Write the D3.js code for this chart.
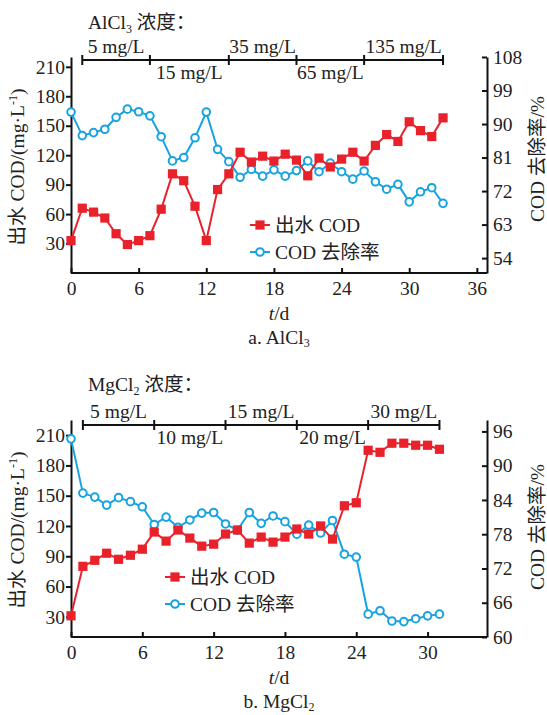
<!DOCTYPE html>
<meta charset="utf-8">
<style>
	body { margin: 0; background: #fff; }
	text { font-family: "Liberation Serif", "Noto Sans CJK SC", serif; font-size: 19.5px; fill: #222; }
	.axis path, .axis line { stroke: #111; stroke-width: 2; }
	.axis text { font-family: "Liberation Serif", serif; font-size: 19.5px; fill: #222; }
</style>

<svg width="547" height="715"></svg>
<script src="https://d3js.org/d3.v7.min.js"></script>

<script>
	// ---- data: a. AlCl3 ----
	var alDays = [0, 1, 2, 3, 4, 5, 6, 7, 8, 9, 10, 11, 12, 13, 14, 15, 16,
	              17, 18, 19, 20, 21, 22, 23, 24, 25, 26, 27, 28, 29, 30, 31, 32, 33];
	var alCod = [33, 66, 62, 56, 40, 29, 33, 38, 65, 101, 94, 68, 33, 85, 101, 123, 113,
	             119, 114, 121, 115, 99, 117, 108, 116, 123, 114, 130, 141, 134, 154, 145, 139, 158];
	var alRemoval = [93.2, 86.9, 87.7, 88.6, 91.8, 94.0, 93.3, 92.2, 86.6, 80.1, 81.0, 86.3, 93.2, 83.2, 79.9, 75.7, 77.8,
	                 76.0, 77.7, 76.0, 77.5, 80.1, 77.2, 79.5, 77.2, 75.2, 77.4, 74.5, 72.5, 73.8, 69.1, 71.8, 72.9, 68.7];
	var alDoseBreaks = [1, 7, 14, 20, 26, 33];
	var alDoseLabels = ["5 mg/L", "15 mg/L", "35 mg/L", "65 mg/L", "135 mg/L"];
	var alDayTicks = [0, 6, 12, 18, 24, 30, 36];
	var alRemovalTicks = [54, 63, 72, 81, 90, 99, 108];

	// ---- data: b. MgCl2 ----
	var mgDays = [0, 1, 2, 3, 4, 5, 6, 7, 8, 9, 10, 11, 12, 13, 14, 15,
	              16, 17, 18, 19, 20, 21, 22, 23, 24, 25, 26, 27, 28, 29, 30, 31];
	var mgCod = [31, 80, 86, 93, 87, 91, 97, 114, 105, 116, 108, 100, 102, 112, 116, 103,
	             109, 104, 109, 117, 112, 120, 107, 140, 143, 195, 193, 202, 202, 200, 200, 196];
	var mgRemoval = [94.7, 85.2, 84.5, 83.1, 84.4, 83.7, 82.8, 79.7, 81.0, 79.2, 80.5, 81.7, 81.8, 79.8, 78.7, 81.8,
	                 79.9, 81.2, 80.2, 78.0, 79.6, 78.2, 80.4, 74.5, 74.0, 64.0, 64.6, 62.8, 62.7, 63.2, 63.7, 64.0];
	var mgDoseBreaks = [1, 7, 13, 19, 25, 31];
	var mgDoseLabels = ["5 mg/L", "10 mg/L", "15 mg/L", "20 mg/L", "30 mg/L"];
	var mgDayTicks = [0, 6, 12, 18, 24, 30];
	var mgRemovalTicks = [60, 66, 72, 78, 84, 90, 96];

	var codTicks = [30, 60, 90, 120, 150, 180, 210];

	var RED = "#e8212b", BLUE = "#17a3e2";
	var svg = d3.select("svg");

	function drawPanel(p) {
		var x = d3.scaleLinear().domain(p.xDomain).range([71, 487]),
		    yL = d3.scaleLinear().domain(p.leftDomain).range([p.bottom, p.top]),
		    yR = d3.scaleLinear().domain(p.rightDomain).range([p.bottom, p.top]);

		var g = svg.append("g");

		// axes
		g.append("g")
			.attr("class", "axis")
			.attr("transform", "translate(0," + p.bottom + ")")
			.call(d3.axisBottom(x).tickValues(p.dayTicks).tickSizeInner(-5).tickSizeOuter(0).tickPadding(8))
			.call(function(a) { a.select(".domain").attr("d", "M71,0H487"); });

		g.append("g")
			.attr("class", "axis")
			.attr("transform", "translate(71,0)")
			.call(d3.axisLeft(yL).tickValues(codTicks).tickSizeInner(5).tickSizeOuter(0).tickPadding(1));

		g.append("g")
			.attr("class", "axis")
			.attr("transform", "translate(487,0)")
			.call(d3.axisRight(yR).tickValues(p.removalTicks).tickSizeInner(-5).tickSizeOuter(0).tickPadding(6));

		g.selectAll(".axis").attr("font-family", null).attr("font-size", null);

		// dosing bar on top
		var bar = g.append("g");
		bar.append("line")
			.attr("x1", x(p.breaks[0])).attr("x2", x(p.breaks[p.breaks.length - 1]))
			.attr("y1", p.barY).attr("y2", p.barY)
			.attr("stroke", "#111").attr("stroke-width", 2);
		bar.selectAll(".tk").data(p.breaks).enter().append("line")
			.attr("x1", function(d) { return x(d); }).attr("x2", function(d) { return x(d); })
			.attr("y1", p.barY - 5).attr("y2", p.barY + 5)
			.attr("stroke", "#111").attr("stroke-width", 2);
		bar.selectAll(".lb").data(p.doseLabels).enter().append("text")
			.attr("x", function(d, i) { return (x(p.breaks[i]) + x(p.breaks[i + 1])) / 2; })
			.attr("y", function(d, i) { return i % 2 ? p.barY + 19 : p.barY - 7; })
			.attr("text-anchor", "middle")
			.text(function(d) { return d; });

		// title of the dosing bar
		var tt = g.append("text").attr("x", 88).attr("y", p.titleY);
		tt.append("tspan").text(p.salt[0]);
		tt.append("tspan").attr("dy", 4).style("font-size", "12px").text(p.salt[1]);
		tt.append("tspan").attr("dy", -4).text(" 浓度：");

		// axis titles
		var lt = g.append("text")
			.attr("transform", "translate(24," + p.leftTitleY + ") rotate(-90)")
			.attr("text-anchor", "middle");
		lt.append("tspan").text("出水 COD/(mg·L");
		lt.append("tspan").attr("dy", -7).style("font-size", "12px").text("-1");
		lt.append("tspan").attr("dy", 7).text(")");

		g.append("text")
			.attr("transform", "translate(544," + p.rightTitleY + ") rotate(-90)")
			.attr("text-anchor", "middle")
			.text("COD 去除率/%");

		g.append("text")
			.attr("x", 279).attr("y", p.bottom + 47)
			.attr("text-anchor", "middle")
			.html('<tspan font-style="italic">t</tspan>/d');

		var cap = g.append("text").attr("x", 279).attr("y", p.bottom + 71)
			.attr("text-anchor", "middle");
		cap.append("tspan").text(p.caption + " " + p.salt[0]);
		cap.append("tspan").attr("dy", 3).style("font-size", "12px").text(p.salt[1]);

		// series
		var codPts = p.days.map(function(d, i) { return [x(d), yL(p.cod[i])]; }),
		    remPts = p.days.map(function(d, i) { return [x(d), yR(p.removal[i])]; });

		g.append("path").attr("d", d3.line()(remPts))
			.attr("fill", "none").attr("stroke", BLUE).attr("stroke-width", 2);
		g.selectAll(".rem").data(remPts).enter().append("circle")
			.attr("cx", function(d) { return d[0]; }).attr("cy", function(d) { return d[1]; })
			.attr("r", 3.8).attr("fill", "#fff").attr("stroke", BLUE).attr("stroke-width", 2);

		g.append("path").attr("d", d3.line()(codPts))
			.attr("fill", "none").attr("stroke", RED).attr("stroke-width", 2);
		g.selectAll(".cod").data(codPts).enter().append("rect")
			.attr("x", function(d) { return d[0] - 4.6; }).attr("y", function(d) { return d[1] - 4.6; })
			.attr("width", 9.2).attr("height", 9.2).attr("fill", RED);

		// legend
		var lg = g.append("g").attr("transform", "translate(" + p.legend[0] + "," + p.legend[1] + ")");
		lg.append("line").attr("x1", -10).attr("x2", 10).attr("stroke", RED).attr("stroke-width", 2);
		lg.append("rect").attr("x", -4.6).attr("y", -4.6).attr("width", 9.2).attr("height", 9.2).attr("fill", RED);
		lg.append("text").attr("x", 15).attr("dy", "0.35em").text("出水 COD");
		lg.append("line").attr("x1", -10).attr("x2", 10).attr("y1", 27).attr("y2", 27).attr("stroke", BLUE).attr("stroke-width", 2);
		lg.append("circle").attr("cy", 27).attr("r", 3.8).attr("fill", "#fff").attr("stroke", BLUE).attr("stroke-width", 2);
		lg.append("text").attr("x", 15).attr("y", 27).attr("dy", "0.35em").text("COD 去除率");
	}

	drawPanel({
		days: alDays, cod: alCod, removal: alRemoval,
		breaks: alDoseBreaks, doseLabels: alDoseLabels,
		dayTicks: alDayTicks, removalTicks: alRemovalTicks,
		xDomain: [0, 36.9], leftDomain: [0, 220], rightDomain: [50, 108],
		top: 57, bottom: 273, barY: 60, titleY: 29,
		leftTitleY: 167, rightTitleY: 159,
		legend: [260, 225], salt: ["AlCl", "3"], caption: "a."
	});

	drawPanel({
		days: mgDays, cod: mgCod, removal: mgRemoval,
		breaks: mgDoseBreaks, doseLabels: mgDoseLabels,
		dayTicks: mgDayTicks, removalTicks: mgRemovalTicks,
		xDomain: [0, 35], leftDomain: [10, 225], rightDomain: [60, 98],
		top: 420, bottom: 637, barY: 425, titleY: 391,
		leftTitleY: 530, rightTitleY: 527,
		legend: [175, 577], salt: ["MgCl", "2"], caption: "b."
	});
</script>
